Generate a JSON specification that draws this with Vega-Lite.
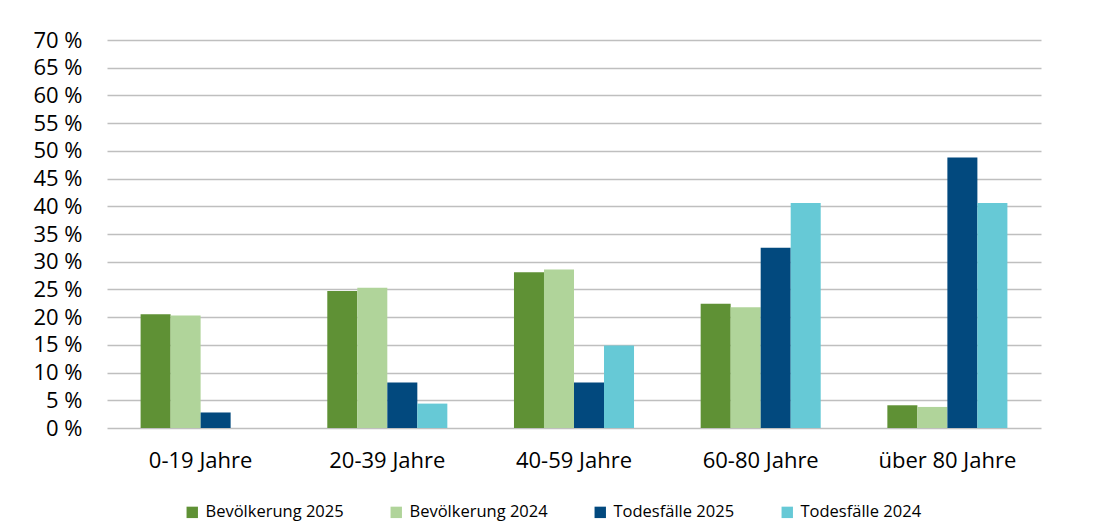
{
  "$schema": "https://vega.github.io/schema/vega-lite/v6.json",
  "autosize": "none",
  "width": 934,
  "height": 388,
  "padding": {"left": 107, "top": 40, "right": 52, "bottom": 103},
  "background": "white",
  "config": {
    "view": {"stroke": null},
    "font": "Open Sans",
    "axis": {"labelFont": "Open Sans", "labelColor": "#000000"},
    "legend": {"labelFont": "Open Sans"}
  },
  "data": {
    "values": [
      {"Altersgruppe": "0-19 Jahre", "Serie": "Bevölkerung 2025", "Anteil": 20.5},
      {"Altersgruppe": "0-19 Jahre", "Serie": "Bevölkerung 2024", "Anteil": 20.3},
      {"Altersgruppe": "0-19 Jahre", "Serie": "Todesfälle 2025", "Anteil": 2.8},
      {"Altersgruppe": "0-19 Jahre", "Serie": "Todesfälle 2024", "Anteil": 0},
      {"Altersgruppe": "20-39 Jahre", "Serie": "Bevölkerung 2025", "Anteil": 24.7},
      {"Altersgruppe": "20-39 Jahre", "Serie": "Bevölkerung 2024", "Anteil": 25.3},
      {"Altersgruppe": "20-39 Jahre", "Serie": "Todesfälle 2025", "Anteil": 8.2},
      {"Altersgruppe": "20-39 Jahre", "Serie": "Todesfälle 2024", "Anteil": 4.4},
      {"Altersgruppe": "40-59 Jahre", "Serie": "Bevölkerung 2025", "Anteil": 28.1},
      {"Altersgruppe": "40-59 Jahre", "Serie": "Bevölkerung 2024", "Anteil": 28.6},
      {"Altersgruppe": "40-59 Jahre", "Serie": "Todesfälle 2025", "Anteil": 8.2},
      {"Altersgruppe": "40-59 Jahre", "Serie": "Todesfälle 2024", "Anteil": 14.9},
      {"Altersgruppe": "60-80 Jahre", "Serie": "Bevölkerung 2025", "Anteil": 22.4},
      {"Altersgruppe": "60-80 Jahre", "Serie": "Bevölkerung 2024", "Anteil": 21.8},
      {"Altersgruppe": "60-80 Jahre", "Serie": "Todesfälle 2025", "Anteil": 32.5},
      {"Altersgruppe": "60-80 Jahre", "Serie": "Todesfälle 2024", "Anteil": 40.6},
      {"Altersgruppe": "über 80 Jahre", "Serie": "Bevölkerung 2025", "Anteil": 4.1},
      {"Altersgruppe": "über 80 Jahre", "Serie": "Bevölkerung 2024", "Anteil": 3.8},
      {"Altersgruppe": "über 80 Jahre", "Serie": "Todesfälle 2025", "Anteil": 48.8},
      {"Altersgruppe": "über 80 Jahre", "Serie": "Todesfälle 2024", "Anteil": 40.6}
    ]
  },
  "mark": {"type": "bar"},
  "encoding": {
    "x": {
      "field": "Altersgruppe",
      "type": "nominal",
      "sort": ["0-19 Jahre", "20-39 Jahre", "40-59 Jahre", "60-80 Jahre", "über 80 Jahre"],
      "scale": {"paddingInner": 0.357, "paddingOuter": 0.18},
      "axis": {
        "title": null,
        "labelAngle": 0,
        "labelFontSize": 22,
        "labelPadding": 22,
        "ticks": false,
        "domain": false
      }
    },
    "xOffset": {
      "field": "Serie",
      "type": "nominal",
      "sort": ["Bevölkerung 2025", "Bevölkerung 2024", "Todesfälle 2025", "Todesfälle 2024"],
      "scale": {"paddingInner": 0, "paddingOuter": 0}
    },
    "y": {
      "field": "Anteil",
      "type": "quantitative",
      "scale": {"domain": [0, 70], "nice": false},
      "axis": {
        "title": null,
        "values": [0, 5, 10, 15, 20, 25, 30, 35, 40, 45, 50, 55, 60, 65, 70],
        "labelExpr": "datum.value + ' %'",
        "labelFontSize": 22,
        "labelPadding": 25,
        "ticks": false,
        "domain": false,
        "gridColor": "#BFBFBF",
        "gridWidth": 1.5,
        "gridOpacity": 1
      }
    },
    "color": {
      "field": "Serie",
      "type": "nominal",
      "sort": ["Bevölkerung 2025", "Bevölkerung 2024", "Todesfälle 2025", "Todesfälle 2024"],
      "scale": {
        "domain": ["Bevölkerung 2025", "Bevölkerung 2024", "Todesfälle 2025", "Todesfälle 2024"],
        "range": ["#5F9135", "#B0D49A", "#02497E", "#66C9D6"]
      },
      "legend": {
        "title": null,
        "orient": "none",
        "direction": "horizontal",
        "legendX": 77,
        "legendY": 464,
        "symbolType": "square",
        "symbolSize": 130,
        "symbolStrokeWidth": 0,
        "symbolOpacity": 1,
        "labelFontSize": 16.5,
        "labelColor": "#000000",
        "labelOffset": 5,
        "columnPadding": 44
      }
    }
  }
}
